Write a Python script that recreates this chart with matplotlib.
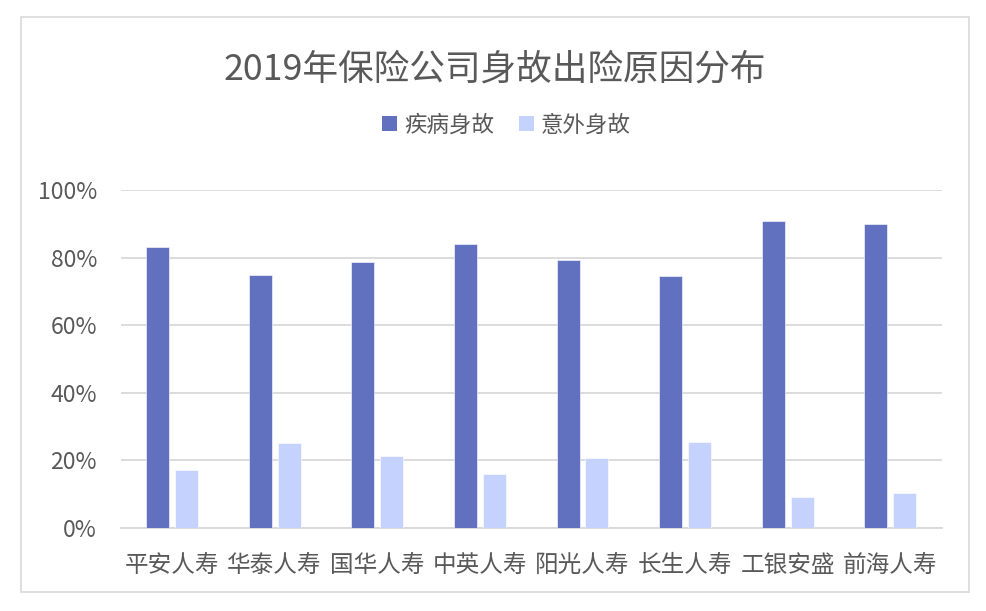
import matplotlib
matplotlib.use("Agg")
import matplotlib.pyplot as plt
import numpy as np
from matplotlib.patches import Rectangle, Patch
from matplotlib.ticker import FuncFormatter

categories = ["平安人寿", "华泰人寿", "国华人寿", "中英人寿", "阳光人寿", "长生人寿", "工银安盛", "前海人寿"]
disease = [83.0, 74.8, 78.7, 84.1, 79.3, 74.6, 90.8, 89.8]
accident = [17.0, 25.2, 21.3, 15.9, 20.7, 25.4, 9.2, 10.2]
series_names = ["疾病身故", "意外身故"]
title = "2019年保险公司身故出险原因分布"

plt.rcParams['font.family'] = ['Noto Sans CJK SC', 'DejaVu Sans']
TEXT = "#595959"
DARK = "#6170BF"
LIGHT = "#C6D2FE"
GRID = "#D9D9D9"

W, H = 987, 611
fig = plt.figure(figsize=(W / 100, H / 100), dpi=100)
fig.patch.set_facecolor("white")

# chart border
fig.patches.append(Rectangle((21 / W, 1 - 592 / H), (969 - 21) / W, (592 - 17) / H,
                             transform=fig.transFigure, fill=False, edgecolor=GRID, linewidth=1.2))

left, right = 120.7 / W, 941.7 / W
bottom, top = 1 - 527.7 / H, 1 - 190 / H
ax = fig.add_axes([left, bottom, right - left, top - bottom])

x = np.arange(len(categories))
bw = 0.224
off = 0.141
ax.bar(x - off, disease, width=bw, color=DARK, edgecolor="white", linewidth=0.4, zorder=3)
ax.bar(x + off, accident, width=bw, color=LIGHT, edgecolor="white", linewidth=0.4, zorder=3)

ax.set_xlim(-0.5, len(categories) - 0.5)
ax.set_ylim(0, 100)
ax.set_yticks([0, 20, 40, 60, 80, 100])
ax.yaxis.set_major_formatter(FuncFormatter(lambda v, p: f"{int(v)}%"))
ax.set_xticks(x)
ax.set_xticklabels(categories)
ax.tick_params(axis="x", length=0, pad=19, labelsize=17, labelcolor=TEXT)
ax.tick_params(axis="y", length=0, pad=17, labelsize=16.5, labelcolor=TEXT)
ax.grid(axis="y", color=GRID, linewidth=1.3, zorder=0)
for s in ["top", "right", "left"]:
    ax.spines[s].set_visible(False)
ax.spines["bottom"].set_color(GRID)
ax.spines["bottom"].set_linewidth(1.3)

fig.text(495 / W, 1 - 70 / H, title, ha="center", va="center", fontsize=25.7, color=TEXT)

handles = [Patch(facecolor=DARK, edgecolor="none"), Patch(facecolor=LIGHT, edgecolor="none")]
leg = fig.legend(handles, series_names, loc="center", bbox_to_anchor=(506.5 / W, 1 - 125 / H),
                 ncol=2, frameon=False, fontsize=16.2, handlelength=0.67, handleheight=0.67,
                 handletextpad=0.31, columnspacing=1.07, labelcolor=TEXT)

fig.savefig("out.png", dpi=100)
